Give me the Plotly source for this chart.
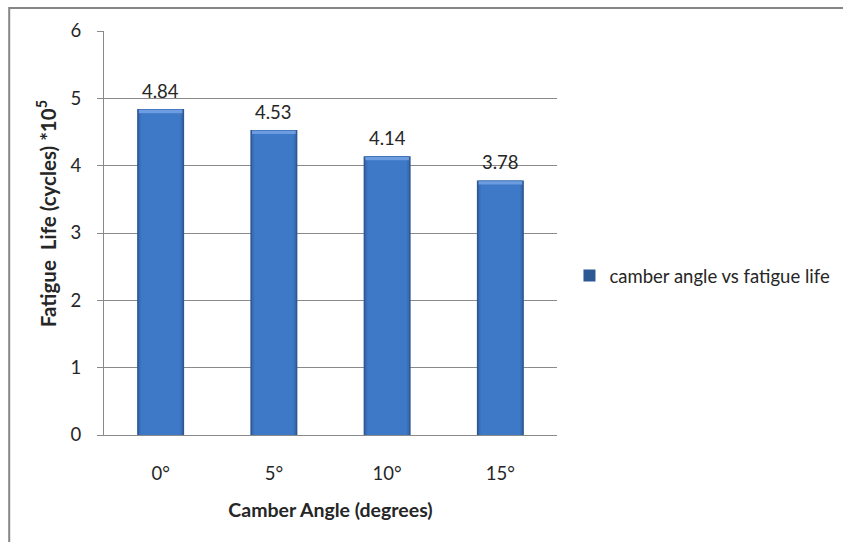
import plotly.graph_objects as go

# Chart data
camber_angles = ["0°", "5°", "10°", "15°"]
fatigue_life = [4.84, 4.53, 4.14, 3.78]
y_ticks = [0, 1, 2, 3, 4, 5, 6]
series_name = "camber angle vs fatigue life"

W, H = 843, 542
L, R, T, B = 103.5, 285.5, 30.5, 106.5
plot_w = W - L - R
plot_h = H - T - B

FONT = "Lato, 'Open Sans', sans-serif"
TXT = "#262626"
GRID = "#8a8a8a"
FS = 18.5


def px_x(px):
    return (px - L) / plot_w


def px_y(py):
    return (H - B - py) / plot_h


fig = go.Figure()

# Bevelled bar look built from overlaid bars of the same values
fig.add_trace(go.Bar(
    x=camber_angles, y=fatigue_life, width=0.415,
    marker=dict(color="#2d5894", line=dict(width=0)),
    name=series_name, showlegend=True, hoverinfo="skip",
))
fig.add_trace(go.Bar(
    x=camber_angles, y=fatigue_life, width=0.385,
    marker=dict(color="#3a6fb8", line=dict(width=0)),
    showlegend=False, hoverinfo="skip",
))
fig.add_trace(go.Bar(
    x=camber_angles, y=[v - 0.06 for v in fatigue_life], width=0.35,
    marker=dict(color="#3e79c8", line=dict(width=0)),
    showlegend=False, hoverinfo="skip",
))
# light top edge
fig.add_trace(go.Bar(
    x=camber_angles, y=[0.05] * len(fatigue_life), base=[v - 0.06 for v in fatigue_life],
    width=0.385,
    marker=dict(color="#6d9de0", line=dict(width=0)),
    showlegend=False, hoverinfo="skip",
))

# value labels above the bars
for cat, val in zip(camber_angles, fatigue_life):
    fig.add_annotation(
        x=cat, y=val, text=f"{val:.2f}", showarrow=False,
        yanchor="bottom", yshift=5,
        font=dict(family=FONT, size=FS, color=TXT),
    )

# y-axis title
fig.add_annotation(
    xref="paper", yref="paper", x=px_x(46), y=px_y(213.5),
    xanchor="center", yanchor="middle", textangle=-90, showarrow=False,
    text="<b>Fatigue  Life (cycles) *10<sup>5</sup></b>",
    font=dict(family=FONT, size=20.5, color=TXT),
)

# outer chart border (left and top edges visible)
fig.add_shape(
    type="rect", xref="paper", yref="paper",
    x0=px_x(8.5), x1=px_x(W + 20),
    y0=px_y(H + 20), y1=px_y(7.5),
    line=dict(color="#868686", width=2), layer="below",
)

fig.update_layout(
    width=W, height=H,
    margin=dict(l=L, r=R, t=T, b=B, pad=0, autoexpand=False),
    paper_bgcolor="white", plot_bgcolor="white",
    barmode="overlay",
    font=dict(family=FONT, size=FS, color=TXT),
    legend=dict(
        x=px_x(570), xanchor="left",
        y=px_y(276), yanchor="middle",
        font=dict(family=FONT, size=FS, color=TXT),
        bgcolor="rgba(0,0,0,0)", itemwidth=30,
    ),
    xaxis=dict(
        showgrid=False, showline=True, linecolor=GRID, linewidth=1,
        ticks="", ticklabelstandoff=22,
        tickfont=dict(family=FONT, size=FS, color=TXT),
        title=dict(text="<b>Camber Angle (degrees)</b>", standoff=20,
                   font=dict(family=FONT, size=19.5, color=TXT)),
        fixedrange=True,
    ),
    yaxis=dict(
        range=[0, 6], tickvals=y_ticks, showgrid=True, gridcolor=GRID, gridwidth=1,
        showline=True, linecolor=GRID, linewidth=1, zeroline=False,
        ticks="outside", ticklen=6, tickcolor=GRID, ticklabelstandoff=12,
        tickfont=dict(family=FONT, size=FS, color=TXT),
        fixedrange=True,
    ),
)

fig.write_html("out.html")
